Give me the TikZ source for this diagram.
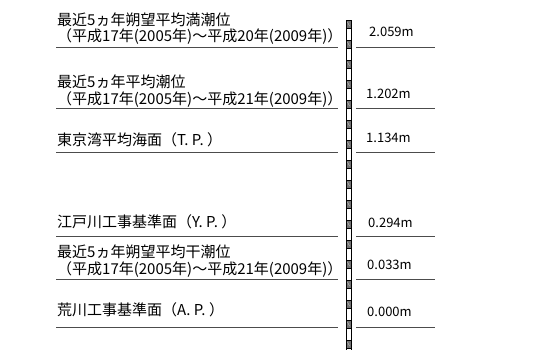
\documentclass[tikz,border=0pt]{standalone}
\usepackage{fontspec}
\setmainfont{Noto Sans CJK JP}
\usetikzlibrary{positioning}
\tikzset{levelLine/.style={line width=0.8pt,color=black!70}}
\tikzset{levelText/.style={anchor=base west,inner sep=0pt,align=left,font=\fontsize{15}{16.5}\selectfont}}
\tikzset{levelVal/.style={anchor=base west,inner sep=0pt,font=\fontsize{13}{14}\selectfont}}
\tikzset{staffBlk/.style={fill=black!55,draw=black,line width=0.6pt}}
\tikzset{staffHatch/.style={color=black!20,line width=0.4pt}}

\begin{document}
\begin{tikzpicture}[x=1pt,y=-1pt]
	\useasboundingbox (0,0) rectangle (540,350);
	\clip (0,0) rectangle (540,350);

	% staff
	\draw[fill=white,line width=0.6pt] (346,20) rectangle (351,360);
	\foreach \k in {0,...,16}{
		\filldraw[staffBlk] (346,20+20*\k) rectangle (351,28+20*\k);
		\draw[staffHatch] (347.5,22+20*\k) -- (349.5,26+20*\k);
	}

	% level lines
	\foreach \y in {47.5,108.5,152,236,279,327}{
		\draw[levelLine] (56,\y) -- (338,\y);
		\draw[levelLine] (356,\y) -- (435,\y);
	}

	% labels (base = last line)
	\node[levelText] (lblHWL) at (57,42) {最近5ヵ年朔望平均満潮位\\（平成17年(2005年)～平成20年(2009年)）};
	\node[levelText] (lblMWL) at (57,104) {最近5ヵ年平均潮位\\（平成17年(2005年)～平成21年(2009年)）};
	\node[levelText] (lblTP) at (57,145) {東京湾平均海面（T. P. ）};
	\node[levelText] (lblYP) at (57,227) {江戸川工事基準面（Y. P. ）};
	\node[levelText] (lblLWL) at (57,274) {最近5ヵ年朔望平均干潮位\\（平成17年(2005年)～平成21年(2009年)）};
	\node[levelText] (lblAP) at (57,315) {荒川工事基準面（A. P. ）};

	% values
	\node[levelVal] (valHWL) at (369,37) {2.059m};
	\node[levelVal] (valMWL) at (366,99) {1.202m};
	\node[levelVal] (valTP) at (366,142) {1.134m};
	\node[levelVal] (valYP) at (368,227) {0.294m};
	\node[levelVal] (valLWL) at (367,269) {0.033m};
	\node[levelVal] (valAP) at (367,316) {0.000m};
\end{tikzpicture}
\end{document}
